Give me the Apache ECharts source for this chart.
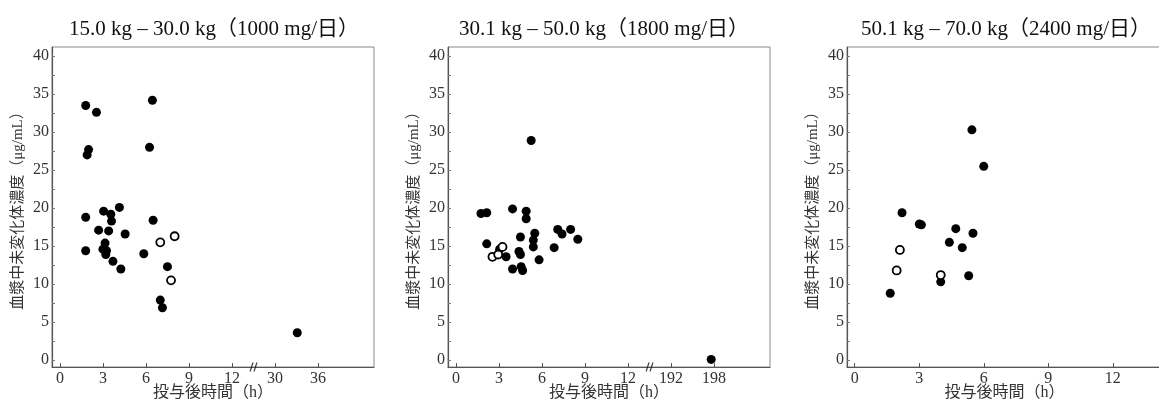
<!DOCTYPE html>
<html>
<head>
<meta charset="utf-8">
<script src="https://cdn.jsdelivr.net/npm/echarts@6/dist/echarts.min.js"></script>
<style>
html, body { margin: 0; padding: 0; background: #fff; }
#chart { width: 1159px; height: 401px; }
</style>
</head>
<body>
<div id="chart"></div>
<script>
// 体重群ごとのタイトル
const titles = [
    '15.0 kg – 30.0 kg（1000 mg/日）',
    '30.1 kg – 50.0 kg（1800 mg/日）',
    '50.1 kg – 70.0 kg（2400 mg/日）'
]
// [投与後時間(h), 血漿中未変化体濃度(μg/mL)]  ●: filled  ○: open
const filled1 = [
    [1.8, 33.5], [2.55, 32.6], [6.45, 34.2], [2.0, 27.7], [1.9, 27.0], [6.25, 28.0],
    [1.8, 18.8], [3.05, 19.6], [4.15, 20.1], [3.55, 19.2], [3.6, 18.3], [6.5, 18.4],
    [2.7, 17.1], [3.4, 17.0], [4.55, 16.6], [3.15, 15.4], [1.8, 14.4], [3.0, 14.6],
    [3.25, 14.4], [3.2, 13.9], [5.85, 14.0], [3.7, 13.0], [4.25, 12.0], [7.5, 12.3],
    [7.0, 7.9], [7.15, 6.9], [33.1, 3.6]
]
const open1 = [[7.0, 15.5], [8.0, 16.3], [7.75, 10.5]]
const filled2 = [
    [5.25, 28.9], [1.75, 19.3], [2.15, 19.4], [3.95, 19.9], [4.9, 19.6], [4.9, 18.6],
    [2.15, 15.3], [4.5, 16.2], [5.5, 16.7], [5.4, 15.8], [5.4, 14.9], [7.1, 17.2],
    [7.4, 16.6], [8.0, 17.2], [8.5, 15.9], [6.85, 14.8], [3.05, 14.6], [3.5, 13.6],
    [4.4, 14.3], [4.5, 13.9], [5.8, 13.2], [3.95, 12.0], [4.55, 12.3], [4.65, 11.8],
    [197.6, 0.1]
]
const open2 = [[2.55, 13.6], [2.95, 13.9], [3.25, 14.9]]
const filled3 = [
    [5.45, 30.3], [6.0, 25.5], [2.2, 19.4], [3.0, 17.9], [3.1, 17.8], [4.7, 17.3],
    [5.5, 16.7], [4.4, 15.5], [5.0, 14.8], [5.3, 11.1], [4.0, 10.3], [1.65, 8.8]
]
const open3 = [[2.1, 14.5], [1.95, 11.8], [4.0, 11.2]]

const yTicks = [0, 5, 10, 15, 20, 25, 30, 35, 40]
const yMinorTicks = [0, 2.5, 5, 7.5, 10, 12.5, 15, 17.5, 20, 22.5, 25, 27.5, 30, 32.5, 35, 37.5, 40]
const xTicks = [0, 3, 6, 9, 12, 15, 18]   // 軸上の位置
// 軸の省略（//）: 省略後は1目盛(3)=6h
const breaks = [{at: 15, real: 30, per: 2}, {at: 15, real: 192, per: 2}, null]
const breakPos = 13.5

const serif = "'Liberation Serif', 'Noto Sans CJK JP', serif"
const lefts = [52, 448, 847]
const widths = [322, 322, 315]
const titleCenters = [209, 599, 1001]
const xRanges = [[-0.55, 21.9], [-0.55, 21.9], [-0.36, 14.29]]

function toAxis (t, br) { // 実時間 → 軸位置
    if (!br || t <= breakPos) return t
    return br.at + (t - br.real) / br.per
}
function mapData (arr, br) {
    return arr.map(d => [toAxis(d[0], br), d[1]])
}

const chart = echarts.init(document.getElementById('chart'), null, {renderer: 'canvas'})
const filled = [filled1, filled2, filled3]
const opens = [open1, open2, open3]

const option = {
    animation: false,
    backgroundColor: '#fff',
    title: titles.map((t, i) => ({
        text: t,
        left: titleCenters[i],
        top: 14,
        textAlign: 'center',
        textStyle: {fontFamily: serif, fontSize: 21, fontWeight: 'normal', color: '#111'}
    })),
    grid: lefts.map((l, i) => ({
        left: l, top: 47, width: widths[i], height: 320,
        show: true, borderColor: '#888', borderWidth: 1,
        containLabel: false, outerBoundsMode: 'none'
    })),
    xAxis: [0, 1, 2].map(i => ({
        type: 'value', gridIndex: i,
        min: xRanges[i][0], max: xRanges[i][1],
        name: '投与後時間（h）', nameLocation: 'middle', nameGap: 18, nameMoveOverlap: false,
        nameTextStyle: {fontFamily: serif, fontSize: 16, color: '#333'},
        axisLine: {onZero: false, lineStyle: {color: '#555', width: 1.2}},
        axisTick: {inside: true, length: 4, customValues: xTicks, lineStyle: {color: '#555'}},
        axisLabel: {
            customValues: xTicks, margin: 4,
            fontFamily: serif, fontSize: 16, color: '#333',
            formatter: v => {
                const br = breaks[i]
                if (!br || v <= 12) return String(v)
                return String(br.real + (v - br.at) * br.per)
            }
        },
        splitLine: {show: false}
    })),
    yAxis: [0, 1, 2].map(i => ({
        type: 'value', gridIndex: i,
        min: -0.9, max: 41.2,
        name: '血漿中未変化体濃度（μg/mL）', nameLocation: 'middle', nameGap: 26, nameMoveOverlap: false,
        nameTextStyle: {fontFamily: serif, fontSize: 15, color: '#333'},
        axisLine: {onZero: false, lineStyle: {color: '#555', width: 1.2}},
        axisTick: {inside: true, length: 3, customValues: yMinorTicks, lineStyle: {color: '#777'}},
        axisLabel: {customValues: yTicks, margin: 3, fontFamily: serif, fontSize: 16, color: '#333'},
        splitLine: {show: false}
    })),
    series: []
}

for (let i = 0; i < 3; i++) {
    option.series.push({
        type: 'scatter', xAxisIndex: i, yAxisIndex: i,
        symbol: 'circle', symbolSize: 9,
        itemStyle: {color: '#000', opacity: 1},
        data: mapData(filled[i], breaks[i])
    })
    option.series.push({
        type: 'scatter', xAxisIndex: i, yAxisIndex: i,
        symbol: 'circle', symbolSize: 8,
        itemStyle: {color: '#fff', borderColor: '#000', borderWidth: 1.8, opacity: 1},
        data: mapData(opens[i], breaks[i])
    })
    if (breaks[i]) { // 軸の省略記号
        option.series.push({
            type: 'scatter', xAxisIndex: i, yAxisIndex: i,
            symbol: 'path://M0,10L3,0L4.4,0L1.4,10Z M4.2,10L7.2,0L8.6,0L5.6,10Z',
            symbolSize: [8, 9], silent: true, clip: false,
            itemStyle: {color: '#111'},
            data: [[breakPos, -0.9]]
        })
    }
}

chart.setOption(option)
</script>
</body>
</html>
